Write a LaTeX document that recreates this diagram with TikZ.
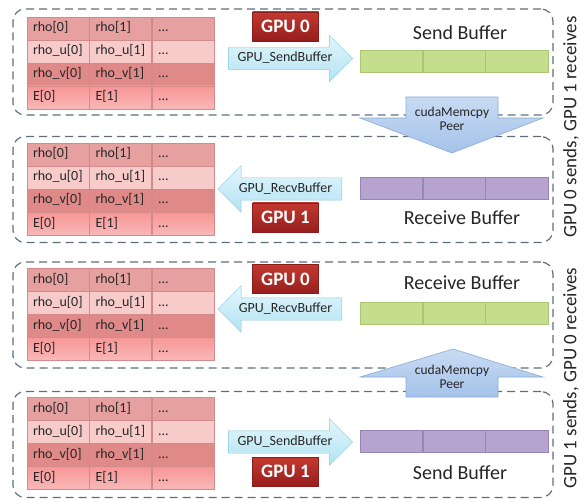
\documentclass[tikz,border=0pt]{standalone}
\usepackage{fontspec}
\setmainfont{Carlito}
\usetikzlibrary{shapes,arrows,positioning}
\definecolor{panelgray}{HTML}{5E6E7E}
\definecolor{cellline}{HTML}{D28A8A}
\definecolor{rowA}{HTML}{E6A0A0}
\definecolor{rowB}{HTML}{F8CBCB}
\definecolor{rowC}{HTML}{E08989}
\definecolor{rowD}{HTML}{F7A6A6}
\definecolor{gputop}{HTML}{C23A30}
\definecolor{gpubot}{HTML}{971D1D}
\definecolor{gpuedge}{HTML}{8A1C1C}
\definecolor{cyantop}{HTML}{E2F6FC}
\definecolor{cyanbot}{HTML}{B3E3F3}
\definecolor{cyanedge}{HTML}{88CAE0}
\definecolor{greenfill}{HTML}{C4DE8E}
\definecolor{greenedge}{HTML}{A9C672}
\definecolor{purplefill}{HTML}{B6A3D0}
\definecolor{purpleedge}{HTML}{9885B8}
\definecolor{peertop}{HTML}{C8DBF3}
\definecolor{peerbot}{HTML}{A5C2EA}
\definecolor{peeredge}{HTML}{8AAAD6}
\definecolor{inktext}{HTML}{262626}
\tikzset{panel/.style={draw=panelgray,line width=1.2pt,dash pattern=on 8pt off 5pt,rounded corners=12pt,minimum width=540pt,minimum height=106pt,inner sep=0pt}}
\tikzset{cell/.style={rectangle,draw=cellline,line width=0.5pt,text width=50pt,align=left,inner xsep=6pt,inner ysep=0pt,minimum height=23pt,text height=10pt,text depth=3pt,text=inktext,font=\fontsize{14}{16}\selectfont}}
\tikzset{rowa/.style={fill=rowA}}
\tikzset{rowb/.style={fill=rowB}}
\tikzset{rowc/.style={fill=rowC}}
\tikzset{rowd/.style={top color=rowD!90!red,bottom color=rowD!80!white}}
\tikzset{gpubox/.style={rectangle,draw=gpuedge,top color=gputop,bottom color=gpubot,minimum width=66pt,minimum height=29pt,inner sep=0pt,text=white,font=\bfseries\fontsize{19}{21}\selectfont}}
\tikzset{sendarrow/.style={single arrow,single arrow head extend=12pt,minimum height=124pt,minimum width=46pt,inner xsep=2pt,inner ysep=4.5pt,text height=10pt,text depth=3pt,draw=cyanedge,top color=cyantop,bottom color=cyanbot,text=inktext,font=\fontsize{14}{16}\selectfont}}
\tikzset{recvarrow/.style={sendarrow,shape border rotate=180}}
\tikzset{greencell/.style={rectangle,draw=greenedge,fill=greenfill,minimum width=62.3pt,minimum height=22pt,inner sep=0pt}}
\tikzset{purplecell/.style={greencell,draw=purpleedge,fill=purplefill}}
\tikzset{buflabel/.style={text=inktext,font=\fontsize{20}{22}\selectfont}}
\tikzset{peerarrow/.style={draw=peeredge,line width=0.6pt,top color=peertop,bottom color=peerbot}}
\tikzset{peertext/.style={align=center,text=inktext,font=\fontsize{13.5}{14}\selectfont}}
\tikzset{sidelabel/.style={rotate=90,text=inktext,font=\fontsize{19}{21}\selectfont}}

\begin{document}
\begin{tikzpicture}[x=1pt,y=-1pt]
    \useasboundingbox (0,0) rectangle (584,500);

    % dashed panels
    \foreach \p/\py in {1/62,2/189.5,3/315,4/444.5}
        \node[panel] (p\p) at (283,\py) {};

    % field tables
    \foreach \tb/\ty in {1/17,2/143,3/268,4/397}
        \foreach \rw/\var/\rs in {0/rho/rowa,1/rho\_u/rowb,2/rho\_v/rowc,3/E/rowd} {
            \node[cell,\rs] (t\tb-\rw-0) at (58,\ty+\rw*23+11.5) {\var[0]};
            \node[cell,\rs,right=0pt of t\tb-\rw-0] (t\tb-\rw-1) {\var[1]};
            \node[cell,\rs,right=0pt of t\tb-\rw-1] (t\tb-\rw-2) {...};
        }

    % GPU tags
    \node[gpubox] (gpu1) at (285.5,26.5) {GPU 0};
    \node[gpubox] (gpu2) at (285.5,217.5) {GPU 1};
    \node[gpubox] (gpu3) at (285.5,279) {GPU 0};
    \node[gpubox] (gpu4) at (285.5,471.5) {GPU 1};

    % pack / unpack arrows
    \node[sendarrow] (send1) at (285,58.5) {GPU\_SendBuffer};
    \node[recvarrow] (recv2) at (285.5,189) {GPU\_RecvBuffer};
    \node[recvarrow] (recv3) at (285.5,309) {GPU\_RecvBuffer};
    \node[sendarrow] (send4) at (285,442) {GPU\_SendBuffer};

    % buffers
    \node[greencell] (sb1a) at (391.2,61) {};
    \node[greencell,right=0pt of sb1a] (sb1b) {};
    \node[greencell,right=0pt of sb1b] (sb1c) {};
    \node[purplecell] (rb2a) at (391.2,188.5) {};
    \node[purplecell,right=0pt of rb2a] (rb2b) {};
    \node[purplecell,right=0pt of rb2b] (rb2c) {};
    \node[greencell] (rb3a) at (391.2,313) {};
    \node[greencell,right=0pt of rb3a] (rb3b) {};
    \node[greencell,right=0pt of rb3b] (rb3c) {};
    \node[purplecell] (sb4a) at (391.2,441) {};
    \node[purplecell,right=0pt of sb4a] (sb4b) {};
    \node[purplecell,right=0pt of sb4b] (sb4c) {};

    \node[buflabel] (lab1) at (460,33) {Send Buffer};
    \node[buflabel] (lab2) at (462,218) {Receive Buffer};
    \node[buflabel] (lab3) at (462,283) {Receive Buffer};
    \node[buflabel] (lab4) at (460,473) {Send Buffer};

    % peer copies
    \path[peerarrow] (406,97) -- (498,97) -- (498,118) -- (543,118) -- (452,153)
        -- (360,118) -- (406,118) -- cycle;
    \node[peertext] (peer1) at (452,118.5) {cudaMemcpy\\Peer};
    \path[peerarrow] (453,349) -- (543,377) -- (498,377) -- (498,397) -- (406,397)
        -- (406,377) -- (360,377) -- cycle;
    \node[peertext] (peer2) at (452,377) {cudaMemcpy\\Peer};

    % directions
    \node[sidelabel] (dir1) at (571,127) {GPU 0 sends, GPU 1 receives};
    \node[sidelabel] (dir2) at (571,378) {GPU 1 sends, GPU 0 receives};
\end{tikzpicture}
\end{document}
